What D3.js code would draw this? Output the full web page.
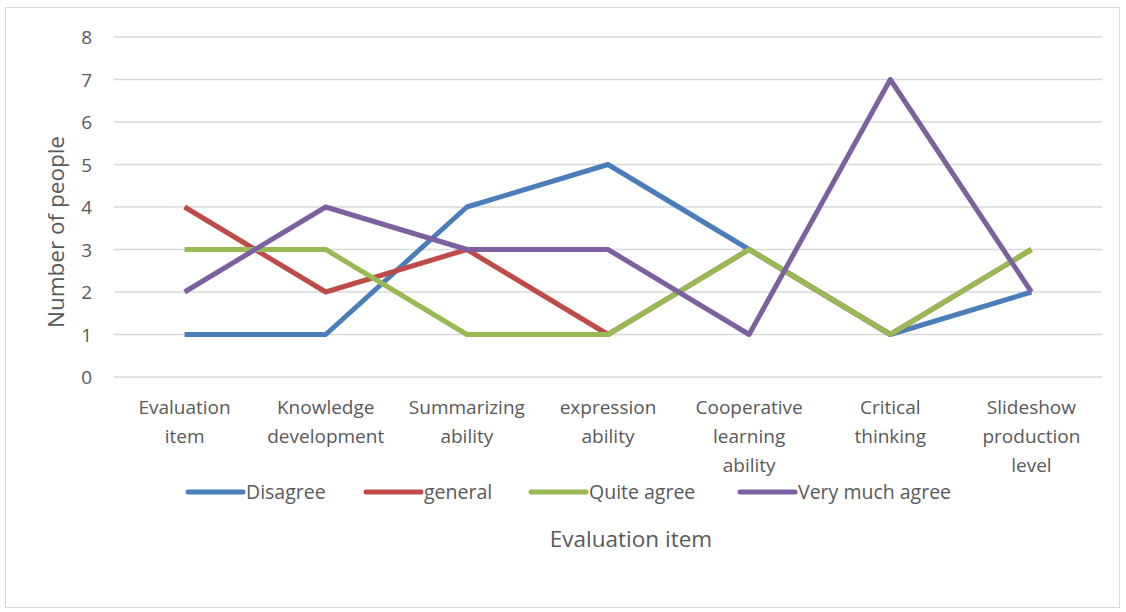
<!DOCTYPE html>
<html>
<head>
<meta charset="utf-8">
<script src="https://cdn.jsdelivr.net/npm/d3@7"></script>
<style>
  body { margin: 0; background: #fff; }
  text { font-family: "Open Sans", "Noto Sans", sans-serif; fill: #595959; }
</style>
</head>
<body>
<div id="chart"></div>
<script>
var width = 1126,
    height = 612;

// data
var categories = ["Evaluation item", "Knowledge development", "Summarizing ability",
  "expression ability", "Cooperative learning ability", "Critical thinking",
  "Slideshow production level"];
var catLines = [["Evaluation", "item"], ["Knowledge", "development"], ["Summarizing", "ability"],
  ["expression", "ability"], ["Cooperative", "learning", "ability"], ["Critical", "thinking"],
  ["Slideshow", "production", "level"]];
var seriesNames = ["Disagree", "general", "Quite agree", "Very much agree"];
var disagree = [1, 1, 4, 5, 3, 1, 2];
var general = [4, 2, 3, 1, 3, 1, 3];
var quiteAgree = [3, 3, 1, 1, 3, 1, 3];
var veryMuch = [2, 4, 3, 3, 1, 7, 2];
var yTicks = [0, 1, 2, 3, 4, 5, 6, 7, 8];
var colors = ["#4a7ebb", "#be4b48", "#98b954", "#7d60a0"];

var seriesData = [disagree, general, quiteAgree, veryMuch];

var svg = d3.select("#chart")
  .append("svg")
  .attr("width", width)
  .attr("height", height);

// outer frame
svg.append("rect")
  .attr("x", 5.5).attr("y", 7.5)
  .attr("width", 1114).attr("height", 600)
  .attr("fill", "#fff")
  .attr("stroke", "#d9d9d9");

var x = d3.scaleBand().domain(categories).range([114, 1102]);
var y = d3.scaleLinear().domain([0, 8]).range([377, 37]);

// gridlines
svg.selectAll(".grid")
  .data(yTicks)
  .enter().append("line")
  .attr("class", "grid")
  .attr("x1", 114).attr("x2", 1102)
  .attr("y1", function(d){ return y(d); })
  .attr("y2", function(d){ return y(d); })
  .attr("stroke", "#d9d9d9")
  .attr("stroke-width", 1.3);

// y tick labels
svg.selectAll(".ytick")
  .data(yTicks)
  .enter().append("text")
  .attr("class", "ytick")
  .attr("x", 92)
  .attr("y", function(d){ return y(d) + 7; })
  .attr("text-anchor", "end")
  .style("font-size", "19px")
  .text(function(d){ return d; });

// category labels
var catG = svg.selectAll(".cat")
  .data(categories)
  .enter().append("text")
  .attr("class", "cat")
  .attr("text-anchor", "middle")
  .style("font-size", "19px");

catG.selectAll("tspan")
  .data(function(d, i){
    return catLines[i].map(function(l){ return {cat: d, line: l}; });
  })
  .enter().append("tspan")
  .attr("x", function(d){ return x(d.cat) + x.bandwidth() / 2; })
  .attr("y", function(d, i){ return 414 + i * 29; })
  .text(function(d){ return d.line; });

// lines
var line = d3.line()
  .x(function(d, i){ return x(categories[i]) + x.bandwidth() / 2; })
  .y(function(d){ return y(d); });

svg.selectAll(".series")
  .data(seriesData)
  .enter().append("path")
  .attr("class", "series")
  .attr("d", line)
  .attr("fill", "none")
  .attr("stroke", function(d, i){ return colors[i]; })
  .attr("stroke-width", 5)
  .attr("stroke-linejoin", "round");

// y axis title
svg.append("text")
  .attr("transform", "translate(64,232) rotate(-90)")
  .attr("text-anchor", "middle")
  .style("font-size", "22.5px")
  .text("Number of people");

// x axis title
svg.append("text")
  .attr("x", 631)
  .attr("y", 547)
  .attr("text-anchor", "middle")
  .style("font-size", "22.5px")
  .text("Evaluation item");

// legend
var legendX = [188, 366, 531, 740];
var legend = svg.selectAll(".legend")
  .data(seriesNames)
  .enter().append("g")
  .attr("class", "legend")
  .attr("transform", function(d, i){ return "translate(" + legendX[i] + ",492)"; });

legend.append("line")
  .attr("x1", 0).attr("x2", 55)
  .attr("stroke", function(d, i){ return colors[i]; })
  .attr("stroke-width", 5)
  .attr("stroke-linecap", "round");

legend.append("text")
  .attr("x", 58)
  .attr("y", 7)
  .style("font-size", "19.5px")
  .text(function(d){ return d; });
</script>
</body>
</html>
